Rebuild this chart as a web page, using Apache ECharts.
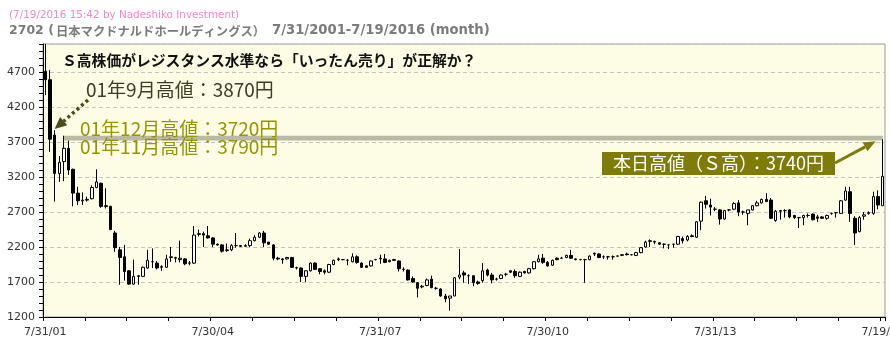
<!DOCTYPE html>
<html><head><meta charset="utf-8">
<script src="https://cdn.jsdelivr.net/npm/echarts@6/dist/echarts.min.js"></script>
<style>html,body{margin:0;padding:0;background:#fff}#c{width:890px;height:349px}</style>
</head><body><div id="c"></div>
<script>
// monthly categories Jul 2001 .. Jul 2016
const categories = [];
for (let i = 0; i <= 180; i++) { const m = 6 + i; categories.push((2001 + Math.floor(m / 12)) + '/' + String(m % 12 + 1).padStart(2, '0')); }
const tickLabels = ['7/31/01', '7/30/04', '7/31/07', '7/30/10', '7/31/13', '7/19/16'];
const yTicks = [1200, 1700, 2200, 2700, 3200, 3700, 4200, 4700];

const openV = [4710,4590,3800,3250,3420,3610,3310,2970,2860,2870,2890,3050,3110,2790,2780,2400,2160,2060,1860,1670,
1780,1780,1900,1990,1970,1910,1910,2050,2050,2020,2030,1970,1970,2380,2390,2360,2330,2240,2230,2150,
2160,2220,2220,2210,2220,2290,2340,2400,2270,2230,2040,2030,2030,2050,1900,1900,1780,1860,1970,1890,
1860,1840,1950,2020,2020,2010,1990,2060,1970,1930,1930,2020,2030,2030,1990,2020,2000,1880,1870,1750,
1690,1630,1650,1740,1610,1600,1500,1470,1500,1770,1830,1790,1790,1700,1720,1870,1800,1740,1750,1810,
1860,1850,1780,1850,1830,1890,1990,2040,1980,1940,2040,2040,2050,2080,2030,2020,2020,2020,2110,2100,
2060,2060,2060,2070,2080,2100,2090,2080,2120,2200,2280,2280,2260,2240,2230,2240,2240,2320,2300,2360,
2340,2570,2860,2800,2740,2730,2600,2730,2740,2830,2700,2680,2730,2790,2830,2880,2870,2580,2710,2720,
2730,2650,2620,2620,2650,2670,2630,2630,2610,2680,2690,2680,2870,2990,2610,2420,2640,2680,2680,2920,2790];
const closeV = [4590,3740,3250,3410,3610,3300,2970,2860,2870,2880,3050,3130,2780,2780,2450,2190,2050,1850,1670,1780,
1790,1910,2010,1990,1900,1920,2030,2060,2040,2040,1960,1970,2370,2390,2370,2330,2240,2230,2140,2160,
2220,2220,2210,2220,2290,2340,2400,2260,2240,2040,2030,2020,2050,1910,1905,1780,1860,1970,1880,1850,
1840,1950,2010,2030,2020,2010,2060,1980,1910,1910,2000,2020,2040,1980,2010,2010,1890,1880,1730,1700,
1610,1640,1730,1620,1610,1500,1460,1500,1760,1800,1800,1790,1690,1680,1860,1800,1730,1740,1800,1810,
1840,1790,1840,1830,1890,1990,2030,1980,1930,2010,2020,2040,2080,2040,2020,2020,2020,2070,2100,2050,
2060,2060,2060,2070,2090,2090,2090,2120,2190,2270,2290,2270,2240,2240,2230,2240,2350,2290,2350,2350,
2560,2840,2810,2770,2740,2600,2720,2730,2820,2700,2700,2730,2790,2830,2880,2850,2610,2710,2720,2720,
2630,2620,2620,2650,2650,2590,2610,2610,2650,2680,2690,2860,3000,2680,2400,2620,2660,2690,2920,2800,3210];
const lowV = [4370,3560,2850,3130,3140,3230,2780,2800,2800,2850,2880,3040,2760,2750,2440,2130,1660,1720,1660,1660,
1660,1770,1890,1900,1880,1860,1900,1990,1980,1980,1940,1940,1960,2350,2200,2320,2200,2220,2120,2130,
2140,2190,2200,2200,2200,2280,2330,2200,2230,2010,2010,1960,2020,1900,1880,1700,1700,1850,1870,1810,
1810,1830,1940,2000,2010,1940,1980,1960,1900,1900,1920,2010,1960,1970,1980,2000,1850,1850,1720,1690,
1480,1610,1640,1610,1590,1490,1410,1290,1500,1740,1690,1670,1640,1660,1690,1780,1680,1720,1740,1780,
1830,1760,1770,1820,1820,1880,1980,1960,1920,1930,2010,2030,2040,2030,2010,2010,1690,2010,2070,2040,
2030,2020,2020,2060,2070,2080,2080,2070,2110,2190,2200,2240,2230,2180,2170,2190,2230,2250,2280,2340,
2330,2440,2750,2650,2710,2520,2590,2710,2730,2640,2660,2510,2720,2780,2820,2840,2600,2560,2590,2620,
2610,2600,2470,2510,2620,2580,2560,2600,2590,2660,2620,2670,2860,2560,2230,2410,2590,2660,2660,2740,2790];
const highV = [5100,4730,3870,3500,3790,3720,3320,3060,2980,2920,3080,3310,3120,3040,2790,2430,2200,2230,1870,2020,
1800,1920,2160,2180,2000,1940,2090,2200,2060,2290,2040,2000,2500,2450,2420,2500,2340,2250,2240,2250,
2240,2400,2230,2240,2320,2370,2410,2430,2270,2240,2060,2040,2060,2060,1920,1910,1870,1980,1980,1900,
1880,1960,2020,2050,2030,2030,2110,2080,1980,1940,2010,2030,2090,2100,2020,2030,2010,1910,1880,1780,
1700,1660,1750,1790,1630,1610,1530,1500,1770,2170,1860,1810,1790,1720,1970,1890,1830,1760,1810,1830,
1870,1880,1850,1860,1900,2000,2090,2100,2000,2020,2050,2060,2090,2160,2040,2030,2030,2080,2120,2110,
2080,2070,2080,2080,2100,2120,2100,2130,2200,2290,2310,2290,2270,2250,2240,2240,2360,2350,2370,2380,
2570,2850,2930,2890,2770,2740,2730,2740,2840,2870,2720,2730,2800,2860,2890,2970,2900,2730,2730,2740,
2740,2660,2630,2660,2680,2680,2660,2640,2660,2690,2700,2870,3060,3060,2640,2640,2700,2710,2990,3010,3740];

const ohlc = openV.map((o, i) => [o, closeV[i], lowV[i], highV[i]]);

const chart = echarts.init(document.getElementById('c'), null, {renderer: 'canvas'});
const option = {
  animation: false,
  backgroundColor: '#ffffff',
  grid: {left: 43, top: 44, width: 842, height: 273, show: true, backgroundColor: '#fdfde6',
    borderColor: '#9a9a9a', borderWidth: 1, containLabel: false, outerBoundsMode: 'none'},
  xAxis: {
    type: 'category', data: categories, boundaryGap: true,
    axisLine: {lineStyle: {color: '#000', width: 1}},
    axisTick: {show: true, interval: (i) => i % 9 === 0, length: 4, lineStyle: {color: '#000'}},
    axisLabel: {interval: (i) => i % 36 === 0, formatter: (v, i) => tickLabels[Math.round(i / 36)] || '',
      color: '#333', fontFamily: 'DejaVu Sans', fontSize: 11, margin: 10},
    splitLine: {show: false}
  },
  yAxis: {
    type: 'value', min: yTicks[0], max: 5100, interval: 500,
    axisLine: {show: true, lineStyle: {color: '#000'}},
    axisTick: {show: true, length: 4, lineStyle: {color: '#000'}},
    minorTick: {show: true, splitNumber: 5, length: 4, lineStyle: {color: '#000'}},
    axisLabel: {color: '#333', fontFamily: 'DejaVu Sans', fontSize: 11, margin: 8, showMaxLabel: false,
      formatter: (v) => (yTicks.indexOf(v) >= 0 ? String(v) : '')},
    splitLine: {show: true, lineStyle: {color: '#c3c3c3', type: [4, 3]}}
  },
  series: [{
    type: 'candlestick', data: ohlc, barWidth: 3,
    itemStyle: {color: '#ffffff', color0: '#000000', borderColor: '#000000', borderColor0: '#000000', borderWidth: 1},
    markArea: {silent: true, itemStyle: {color: '#b9b9a4', opacity: 1},
      data: [[{xAxis: categories[4], yAxis: 3720}, {xAxis: categories[180], yAxis: 3790}]]}
  }]
};
chart.setOption(option);

function px(idx, val, fb) {
  try { const p = chart.convertToPixel({gridIndex: 0}, [idx, val]); if (p && isFinite(p[0])) return p; } catch (e) {}
  return fb;
}
function txt(x, y, s, font, fill, align) {
  return {type: 'text', x: x, y: y, z: 100, silent: true,
    style: {text: s, font: font, fill: fill, align: align || 'left', verticalAlign: 'middle',
      textAlign: align || 'left', textVerticalAlign: 'middle'}};
}
function arrow(start, tip, color, width, headLen, headW, dash) {
  const dx = tip[0] - start[0], dy = tip[1] - start[1];
  const L = Math.sqrt(dx * dx + dy * dy), ux = dx / L, uy = dy / L;
  const bx = tip[0] - ux * headLen, by = tip[1] - uy * headLen;
  const nx = -uy, ny = ux;
  const line = {type: 'polyline', z: 100, silent: true, shape: {points: [start, [bx, by]]},
    style: {stroke: color, lineWidth: width, lineDash: dash || null, fill: null}};
  const head = {type: 'polygon', z: 100, silent: true,
    shape: {points: [tip, [bx + nx * headW / 2, by + ny * headW / 2], [bx - nx * headW / 2, by - ny * headW / 2]]},
    style: {fill: color}};
  return [line, head];
}

const tip1 = px(2, 3870, [54.6, 130]);
const tip2 = px(180, 3740, [884, 139]);
const cjk = "'Noto Sans CJK JP'";
const graphics = [
  txt(9, 15, '(7/19/2016 15:42 by Nadeshiko Investment)', "10.4px 'DejaVu Sans'", '#ee88c8'),
  txt(9, 31, '2702 (', "bold 12.5px 'DejaVu Sans'", '#7b7b7b'),
  txt(56, 31, '日本マクドナルドホールディングス）', 'bold 12.3px ' + cjk, '#7b7b7b'),
  txt(272, 31, '7/31/2001-7/19/2016 (month)', "bold 13.2px 'DejaVu Sans'", '#7b7b7b'),
  txt(62, 60, 'Ｓ高株価がレジスタンス水準なら「いったん売り」が正解か？', 'bold 14.8px ' + cjk, '#111111'),
  txt(86, 89.5, '01年9月高値：3870円', '19px ' + cjk, '#3d3d1f'),
  txt(80, 128.5, '01年12月高値：3720円', '19px ' + cjk, '#959500'),
  txt(80, 147, '01年11月高値：3790円', '19px ' + cjk, '#959500'),
  {type: 'rect', z: 99, silent: true, shape: {x: 602, y: 152, width: 233, height: 23}, style: {fill: '#7e7b06'}},
  txt(718.5, 163.5, '本日高値（Ｓ高）：3740円', '18px ' + cjk, '#ffffff', 'center')
].concat(
  arrow([88, 100], [tip1[0], tip1[1] - 1], '#4a4a1c', 3.5, 12, 11, [3, 3]),
  arrow([835, 163], [tip2[0] - 7, tip2[1] + 2], '#7e7b06', 3, 12, 10)
);
chart.setOption({graphic: graphics});
</script>
</body></html>
